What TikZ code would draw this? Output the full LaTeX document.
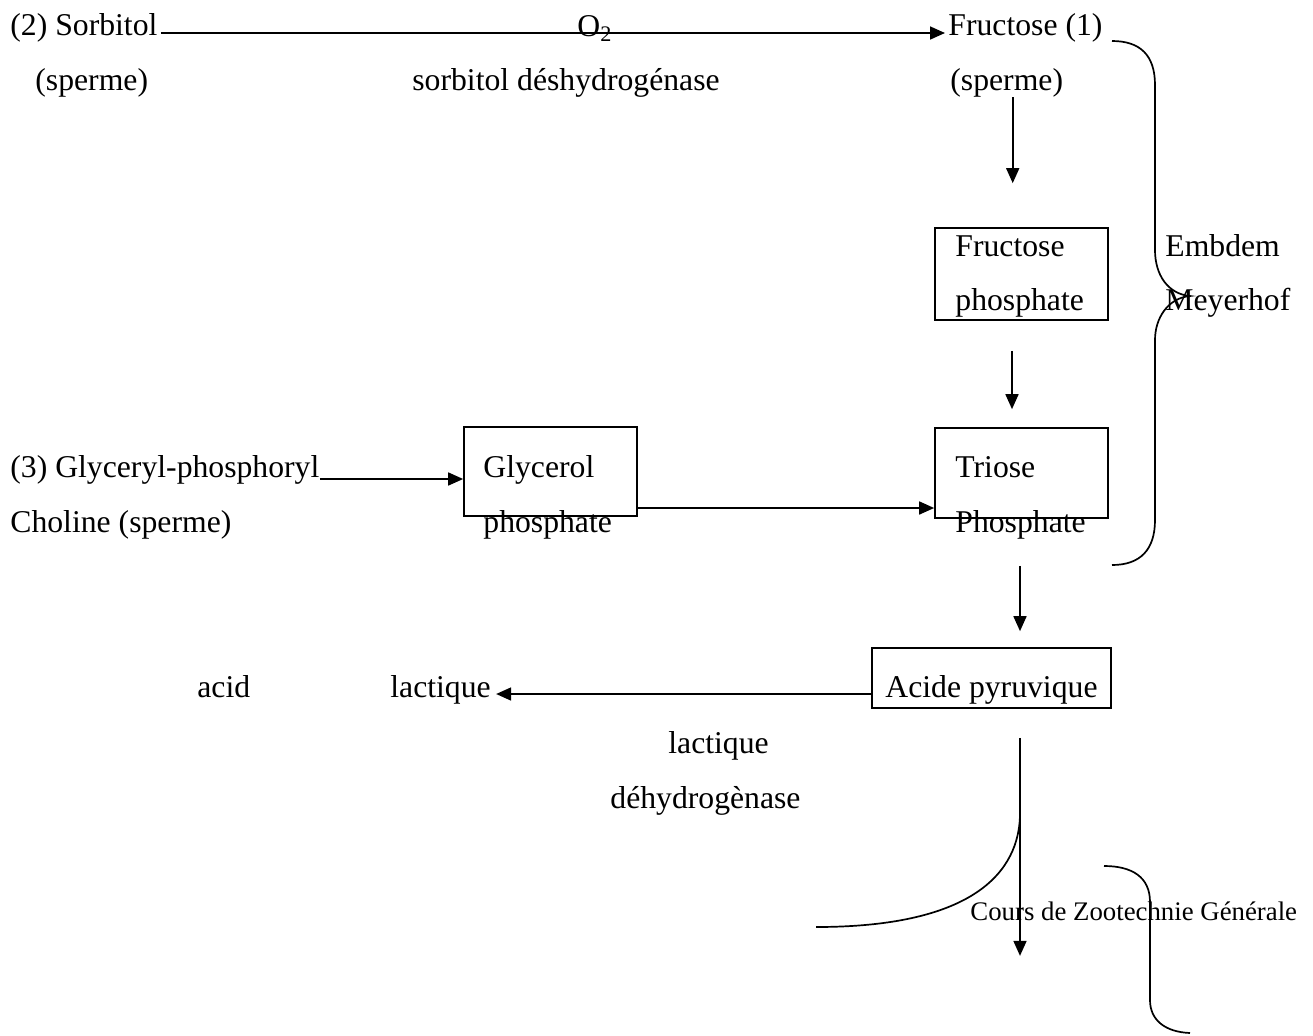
\documentclass[tikz,border=0pt]{standalone}
\usepackage{fontspec}
\setmainfont{Liberation Serif}
\usetikzlibrary{arrows.meta,positioning,calc}
\tikzset{>={Triangle[length=7.5pt,width=6.5pt]},every node/.style={font=\fontsize{15.85}{19}\selectfont},
 lbl/.style={anchor=base west,inner sep=0pt},box/.style={draw,line width=.85pt,inner sep=0pt},
 arr/.style={->,line width=.85pt},brace/.style={line width=.85pt}}

\begin{document}
\begin{tikzpicture}[x=.5pt,y=-.5pt]
\useasboundingbox (0,0) rectangle (1313,1035);
% boxes
\node[box,minimum width=86.5pt,minimum height=46pt] (fp) at (1021.5,274) {};
\node[box,minimum width=86.5pt,minimum height=45pt] (tp) at (1021.5,473) {};
\node[box,minimum width=86.5pt,minimum height=44.5pt] (gp) at (550.5,471.5) {};
\node[box,minimum width=119.5pt,minimum height=30pt] (ap) at (991.5,678) {};
% texts
\node[lbl] (sorb) at (10,35) {(2) Sorbitol};
\node[lbl] (spa) at (35,90) {(sperme)};
\node[lbl] (otwo) at (577,36) {O\textsubscript{2}};
\node[lbl] (sdh) at (412,90) {sorbitol déshydrogénase};
\node[lbl] (fruc) at (948,35) {Fructose (1)};
\node[lbl] (spb) at (950,90) {(sperme)};
\node[lbl] (fpa) at (955,256) {Fructose};
\node[lbl] (fpb) at (955,310) {phosphate};
\node[lbl] (emb) at (1165,256) {Embdem};
\node[lbl] (mey) at (1165,310) {Meyerhof};
\node[lbl] (gpc) at (10,477) {(3) Glyceryl-phosphoryl};
\node[lbl] (cho) at (10,532) {Choline (sperme)};
\node[lbl] (gpa) at (483,477) {Glycerol};
\node[lbl] (gpb) at (483,532) {phosphate};
\node[lbl] (tpa) at (955,477) {Triose};
\node[lbl] (tpb) at (955,532) {Phosphate};
\node[lbl] (acid) at (197,697) {acid};
\node[lbl] (lac) at (390,697) {lactique};
\node[lbl] (apt) at (885,697) {Acide pyruvique};
\node[lbl] (ldha) at (668,753) {lactique};
\node[lbl] (ldhb) at (610,808) {déhydrogènase};
\node[lbl,font=\fontsize{13.4}{16}\selectfont] (cours) at (970,920) {Cours de Zootechnie Générale};
% arrows
\draw[arr] ([xshift=1.5pt,yshift=1pt]sorb.base east) -- ([xshift=-1.5pt,yshift=1pt]fruc.base west);
\draw[arr] ([xshift=3pt]spb.south) -- ++(0,86);
\draw[arr] ([xshift=-4.75pt,yshift=-15pt]fp.south) -- ([xshift=-4.75pt,yshift=9pt]tp.north);
\coordinate (gin) at ([yshift=-1pt]gpc.base east);
\draw[arr] (gin) -- (gin -| gp.west);
\coordinate (gout) at ([yshift=-18.25pt]gp.east);
\draw[arr] (gout) -- (gout -| tp.west);
\draw[arr] ([xshift=-.75pt,yshift=-23.5pt]tp.south) -- ([xshift=14.25pt,yshift=8pt]ap.north);
\coordinate (aout) at ([yshift=-8pt]ap.west);
\draw[arr] (aout) -- ([xshift=2.5pt,yshift=1.5pt]lac.base east);
\draw[arr] ([xshift=14.25pt,yshift=-14.5pt]ap.south) -- ++(0,218);
% braces
\draw[brace] (1112,41) .. controls (1140,41) and (1155,55) .. (1155,85) -- (1155,250)
 .. controls (1155,275) and (1168,294) .. (1190,296) .. controls (1168,298) and (1155,318) .. (1155,340)
 -- (1155,520) .. controls (1155,550) and (1140,565) .. (1112,565);
\draw[brace] (1020,813) .. controls (1020,860) and (990,927) .. (816,927);
\draw[brace] (1104,866) .. controls (1132,866) and (1150,877) .. (1150,902) -- (1150,1000)
 .. controls (1150,1020) and (1165,1032) .. (1190,1033);
\end{tikzpicture}
\end{document}
